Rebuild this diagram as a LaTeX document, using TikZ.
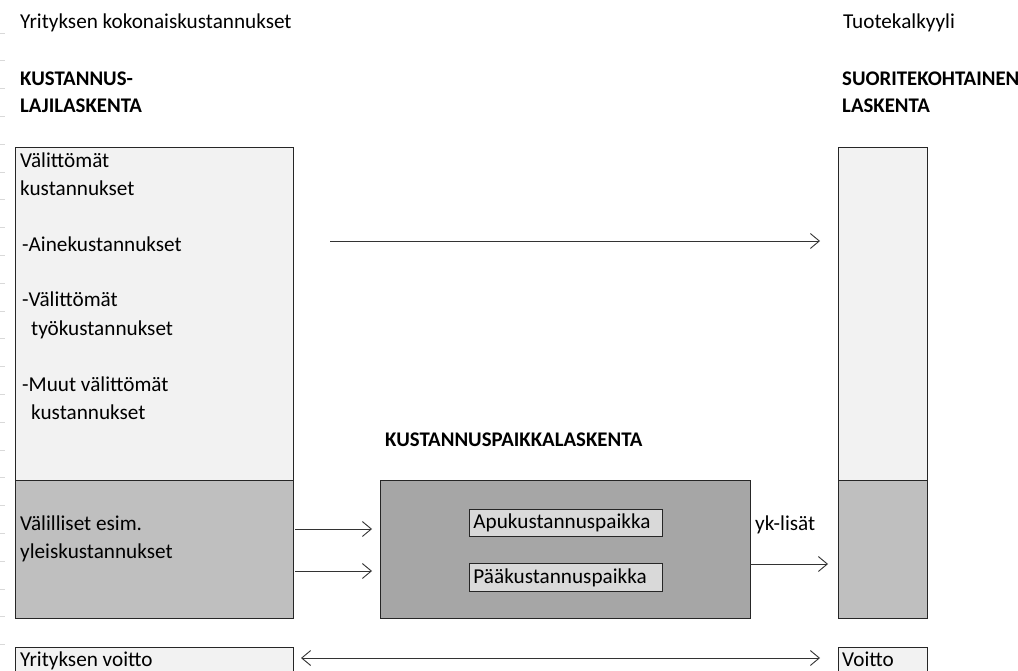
\documentclass[tikz,border=0pt]{standalone}
\usepackage{fontspec}
\setmainfont{Carlito}
\usetikzlibrary{arrows.meta, positioning}

\definecolor{paleGray}{HTML}{F2F2F2}
\definecolor{midGray}{HTML}{BFBFBF}
\definecolor{darkGray}{HTML}{A6A6A6}
\definecolor{cellGray}{HTML}{D9D9D9}

\begin{document}
\begin{tikzpicture}[
    x=1pt, y=-1pt,
    box/.style={draw=black!85, line width=0.9pt, inner sep=0pt, anchor=north west},
    cell/.style={box, fill=cellGray, minimum width=193pt, minimum height=27pt,
                 inner xsep=4pt, text width=185pt, align=left,
                 font=\fontsize{21.2}{24}\selectfont},
    txt/.style={font=\fontsize{21.2}{27.8}\selectfont, inner sep=0pt,
                anchor=base west, align=left},
    head/.style={txt, font=\fontsize{20.8}{27.8}\selectfont\bfseries},
    flow/.style={-{Straight Barb[length=9pt, width=15pt]}, line width=0.9pt, black!80},
    tick/.style={gray!30, line width=0.8pt}
  ]
  \useasboundingbox (0,0) rectangle (1018,671);

  % row marks at the left edge
  \foreach \r in {0,...,22}
    \draw[tick] (0,{33+27.8*\r}) -- (5,{33+27.8*\r});

  % headings
  \node[txt] (total) at (20,29) {Yrityksen kokonaiskustannukset};
  \node[txt] (calc) at (843,29) {Tuotekalkyyli};
  \node[head] (kl1) at (20,86) {KUSTANNUS-};
  \node[head] (kl2) at (20,113) {LAJILASKENTA};
  \node[head] (sk1) at (842,86) {SUORITEKOHTAINEN};
  \node[head] (sk2) at (842,113) {LASKENTA};

  % columns
  \node[box, fill=paleGray, minimum width=278pt, minimum height=333pt] (direct) at (15,147) {};
  \node[box, fill=midGray, minimum width=278pt, minimum height=138pt] (indirect) at (15,480) {};
  \node[box, fill=paleGray, minimum width=89pt, minimum height=333pt] (prodtop) at (838,147) {};
  \node[box, fill=midGray, minimum width=89pt, minimum height=138pt] (prodbot) at (838,480) {};
  \node[box, fill=paleGray, minimum width=278pt, minimum height=40pt] (profit) at (15,647) {};
  \node[box, fill=paleGray, minimum width=89pt, minimum height=40pt] (prodprofit) at (838,647) {};

  % texts in the left column
  \node[txt] (d1) at (20,168) {Välittömät};
  \node[txt] (d2) at (20,196) {kustannukset};
  \node[txt] (d3) at (22,252) {-Ainekustannukset};
  \node[txt] (d4) at (22,307) {-Välittömät};
  \node[txt] (d5) at (31,335) {työkustannukset};
  \node[txt] (d6) at (22,391) {-Muut välittömät};
  \node[txt] (d7) at (31,419) {kustannukset};
  \node[txt] (i1) at (20,530) {Välilliset esim.};
  \node[txt] (i2) at (20,558) {yleiskustannukset};
  \node[txt] (p1) at (20,666) {Yrityksen voitto};
  \node[txt] (p2) at (842,666) {Voitto};

  % cost centres
  \node[head] (kp) at (385,446) {KUSTANNUSPAIKKALASKENTA};
  \node[box, fill=darkGray, minimum width=370pt, minimum height=138pt] (centre) at (380,480) {};
  \node[cell] (aux) at (469,509) {Apukustannuspaikka};
  \node[cell, minimum height=28pt] (main) at (469,563) {Pääkustannuspaikka};
  \node[txt] (yk) at (755,530) {yk-lisät};

  % arrows
  \coordinate (a1) at (330,241);
  \coordinate (a2) at (820,241);
  \coordinate (b1) at (295,529);
  \coordinate (b2) at (372,529);
  \coordinate (c1) at (295,571);
  \coordinate (c2) at (372,571);
  \coordinate (e1) at (750,564);
  \coordinate (e2) at (828,564);
  \coordinate (f1) at (301,658);
  \coordinate (f2) at (820,658);
  \draw[flow] (a1) -- (a2);
  \draw[flow] (b1) -- (b2);
  \draw[flow] (c1) -- (c2);
  \draw[flow] (e1) -- (e2);
  \draw[flow, {Straight Barb[length=9pt, width=15pt]}-{Straight Barb[length=9pt, width=15pt]}] (f1) -- (f2);
\end{tikzpicture}
\end{document}
